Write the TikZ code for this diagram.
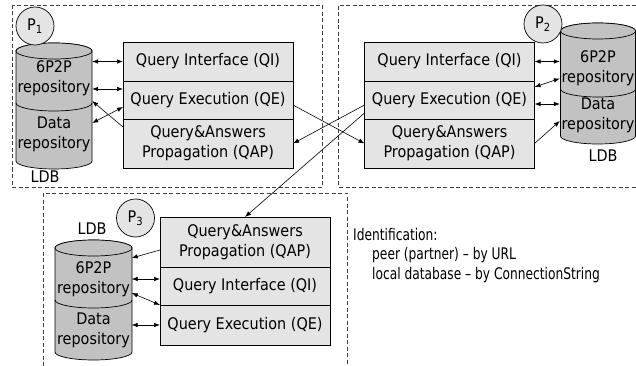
\documentclass[tikz,border=0pt]{standalone}
\usepackage{fontspec}
\setmainfont{DejaVu Sans Condensed}
\newfontfamily\idfont[FakeStretch=0.85,Ligatures=TeX]{DejaVu Sans Condensed}
\definecolor{modfill}{HTML}{E4E4E4}
\definecolor{cylfill}{HTML}{C2C2C2}
\usetikzlibrary{arrows.meta,positioning}

\begin{document}
\begin{tikzpicture}[x=1pt, y=-1pt, font=\fontsize{16}{20}\selectfont,
  peerbox/.style={draw=black!75, line width=0.7pt, dash pattern=on 4pt off 2.5pt},
  module/.style={draw, fill=modfill, line width=0.7pt, minimum width=170pt, inner sep=0pt, outer sep=0pt, align=center},
  tag/.style={draw, circle, fill=modfill, line width=0.7pt, minimum size=38pt, inner sep=0pt},
  cyl/.style={draw, fill=cylfill, line width=0.7pt},
  cyltxt/.style={text width=76pt, align=center, inner sep=0pt},
  idtxt/.style={anchor=west, inner sep=0pt, font=\fontsize{16}{20}\idfont},
  dbl/.style={{Latex[length=6pt,width=4.5pt]}-{Latex[length=6pt,width=4.5pt]}, line width=0.6pt},
  one/.style={-{Latex[length=6pt,width=4.5pt]}, line width=0.6pt}]
  \useasboundingbox (0,0) rectangle (636,366);

  \draw[peerbox] (12,5) rectangle (322,187);
  \draw[peerbox] (636,5) -- (338,5) -- (338,187) -- (636,187);
  \draw[peerbox] (43,366) -- (43,193) -- (347,193) -- (347,366);

  \filldraw[cyl] (16,51) -- (16,161) arc[start angle=180, end angle=0, x radius=38, y radius=8] -- (92,51) arc[start angle=0, end angle=-180, x radius=38, y radius=8] -- cycle;
  \draw[cyl] (54,51) ellipse[x radius=38, y radius=8];
  \draw[line width=0.7pt] (16,103) arc[start angle=180, end angle=0, x radius=38, y radius=8];

  \filldraw[cyl] (560.5,31) -- (560.5,136) arc[start angle=180, end angle=0, x radius=37.5, y radius=8] -- (635.5,31) arc[start angle=0, end angle=-180, x radius=37.5, y radius=8] -- cycle;
  \draw[cyl] (598,31) ellipse[x radius=37.5, y radius=8];
  \draw[line width=0.7pt] (560.5,89) arc[start angle=180, end angle=0, x radius=37.5, y radius=8];

  \filldraw[cyl] (55,248) -- (55,352) arc[start angle=180, end angle=0, x radius=38.5, y radius=8] -- (132,248) arc[start angle=0, end angle=-180, x radius=38.5, y radius=8] -- cycle;
  \draw[cyl] (93.5,248) ellipse[x radius=38.5, y radius=8];
  \draw[line width=0.7pt] (55,300) arc[start angle=180, end angle=0, x radius=38.5, y radius=8];

  \node[cyltxt] (rep1) at (54,78) {6P2P\\repository};
  \node[cyltxt] (dat1) at (54,134) {Data\\repository};
  \node (ldb1) at (45,177) {LDB};
  \node[cyltxt] (rep2) at (598,68) {6P2P\\repository};
  \node[cyltxt] (dat2) at (598,115) {Data\\repository};
  \node (ldb2) at (603,156) {LDB};
  \node[cyltxt] (rep3) at (93.5,279) {6P2P\\repository};
  \node[cyltxt] (dat3) at (93.5,330) {Data\\repository};
  \node (ldb3) at (92,229) {LDB};

  \node[tag] (p1) at (35,26) {P\textsubscript{1}};
  \node[tag] (p2) at (543,24) {P\textsubscript{2}};
  \node[tag] (p3) at (135.5,218) {P\textsubscript{3}};

  \node[module, minimum height=39pt] (qi1) at (208,61.5) {Query Interface (QI)};
  \node[module, minimum height=38pt, below=0pt of qi1] (qe1) {Query Execution (QE)};
  \node[module, minimum height=49pt, below=0pt of qe1] (qap1) {Query\&Answers\\Propagation (QAP)};

  \node[module, minimum height=39pt] (qi2) at (449.5,61.5) {Query Interface (QI)};
  \node[module, minimum height=38pt, below=0pt of qi2] (qe2) {Query Execution (QE)};
  \node[module, minimum height=49pt, below=0pt of qe2] (qap2) {Query\&Answers\\Propagation (QAP)};

  \node[module, minimum height=50pt] (qap3) at (245,242) {Query\&Answers\\Propagation (QAP)};
  \node[module, minimum height=38pt, below=0pt of qap3] (qi3) {Query Interface (QI)};
  \node[module, minimum height=40pt, below=0pt of qi3] (qe3) {Query Execution (QE)};

  \draw[dbl] (qi1.west) -- (qi1.west -| rep1.east);
  \coordinate (a1) at ([yshift=11pt]qe1.west);
  \draw[dbl] (a1) -- (a1 -| rep1.east);
  \draw[dbl] ([yshift=-7pt]qe1.west) -- ([yshift=11pt]dat1.east);
  \draw[one] ([yshift=16.5pt]qap1.west) -- ([yshift=-23pt]rep1.east);

  \draw[dbl] (qi2.east) -- (qi2.east -| rep2.west);
  \draw[dbl] ([yshift=13pt]qe2.east) -- ([yshift=-10.5pt]rep2.west);
  \coordinate (a2) at ([yshift=-4pt]qe2.east);
  \draw[dbl] (a2) -- (a2 -| dat2.west);
  \draw[one] (qap2.east) -- ([yshift=-6pt]dat2.west);

  \draw[one] ([yshift=-8pt]qap3.west) -- ([yshift=21pt]rep3.east);
  \draw[dbl] (rep3.east) -- (rep3.east -| qi3.west);
  \draw[dbl] ([yshift=-14pt]rep3.east) -- (qi3.south west);
  \draw[dbl] (qe3.west) -- (qe3.west -| dat3.east);

  \draw[one] ([yshift=-5pt]qe1.east) -- (qap2.west);
  \draw[one] ([yshift=-5pt]qe2.west) -- (qap1.east);
  \draw[one] ([yshift=-13pt]qe2.west) -- (qap3.north);

  \node[idtxt] (id0) at (353,235) {Identification:};
  \node[idtxt] (id1) at (372,255) {peer (partner) – by URL};
  \node[idtxt] (id2) at (372,275) {local database – by ConnectionString};
\end{tikzpicture}
\end{document}
